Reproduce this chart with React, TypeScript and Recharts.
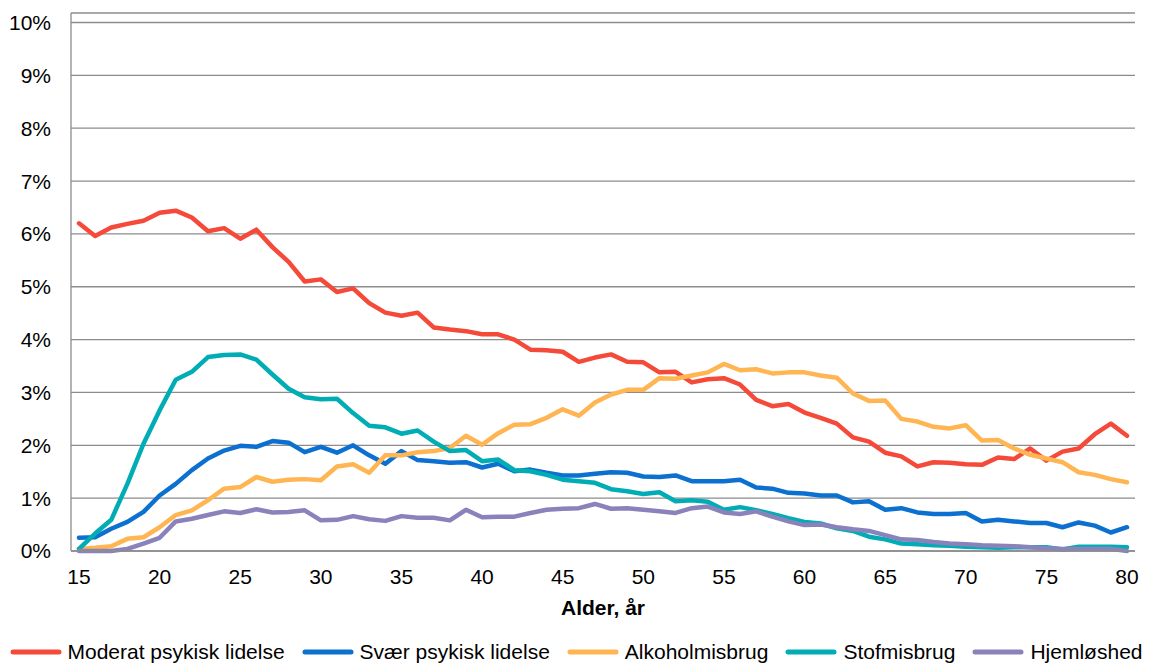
import { LineChart, Line, XAxis, YAxis, CartesianGrid, Legend } from "recharts";

// Andel (%) efter alder
const ages = [
  15, 16, 17, 18, 19, 20, 21, 22, 23, 24, 25, 26, 27, 28, 29, 30, 31, 32, 33, 34, 35, 36,
  37, 38, 39, 40, 41, 42, 43, 44, 45, 46, 47, 48, 49, 50, 51, 52, 53, 54, 55, 56, 57, 58,
  59, 60, 61, 62, 63, 64, 65, 66, 67, 68, 69, 70, 71, 72, 73, 74, 75, 76, 77, 78, 79, 80,
];

const moderat = [
  6.2, 5.96, 6.12, 6.19, 6.25, 6.4, 6.44, 6.31, 6.05, 6.11, 5.91, 6.08, 5.75, 5.47, 5.1, 5.14,
  4.9, 4.97, 4.69, 4.51, 4.45, 4.51, 4.23, 4.19, 4.16, 4.1, 4.1, 4.0, 3.81, 3.8, 3.77, 3.58,
  3.66, 3.72, 3.58, 3.57, 3.38, 3.39, 3.19, 3.25, 3.27, 3.15, 2.86, 2.74, 2.78, 2.62, 2.52,
  2.41, 2.15, 2.07, 1.86, 1.79, 1.6, 1.68, 1.67, 1.64, 1.63, 1.77, 1.74, 1.94, 1.71, 1.88,
  1.94, 2.21, 2.41, 2.18,
];

const svaer = [
  0.25, 0.26, 0.42, 0.55, 0.74, 1.05, 1.27, 1.53, 1.75, 1.9, 1.99, 1.97, 2.08, 2.05, 1.87,
  1.97, 1.86, 2.0, 1.81, 1.65, 1.89, 1.72, 1.7, 1.67, 1.68, 1.58, 1.65, 1.51, 1.54, 1.48,
  1.43, 1.43, 1.46, 1.49, 1.48, 1.41, 1.4, 1.43, 1.32, 1.32, 1.32, 1.35, 1.2, 1.18, 1.1, 1.09,
  1.05, 1.05, 0.92, 0.94, 0.78, 0.81, 0.73, 0.7, 0.7, 0.72, 0.56, 0.59, 0.56, 0.53, 0.53,
  0.45, 0.54, 0.48, 0.35, 0.45,
];

const alkohol = [
  0.04, 0.06, 0.09, 0.23, 0.26, 0.45, 0.68, 0.77, 0.96, 1.18, 1.21, 1.4, 1.31, 1.35, 1.36,
  1.34, 1.6, 1.64, 1.48, 1.81, 1.81, 1.87, 1.89, 1.95, 2.18, 2.01, 2.23, 2.39, 2.4, 2.52,
  2.68, 2.56, 2.81, 2.96, 3.05, 3.05, 3.27, 3.26, 3.32, 3.38, 3.54, 3.42, 3.44, 3.36, 3.38,
  3.38, 3.32, 3.28, 2.98, 2.84, 2.85, 2.5, 2.45, 2.35, 2.32, 2.38, 2.09, 2.1, 1.94, 1.82,
  1.75, 1.68, 1.49, 1.44, 1.36, 1.3,
];

const stof = [
  0.04, 0.33, 0.59, 1.27, 2.03, 2.66, 3.24, 3.39, 3.67, 3.71, 3.72, 3.62, 3.34, 3.07, 2.91,
  2.87, 2.88, 2.61, 2.37, 2.34, 2.22, 2.28, 2.07, 1.89, 1.91, 1.7, 1.73, 1.53, 1.51, 1.44,
  1.35, 1.32, 1.29, 1.17, 1.13, 1.08, 1.11, 0.94, 0.96, 0.93, 0.78, 0.83, 0.77, 0.7, 0.62,
  0.55, 0.52, 0.43, 0.38, 0.27, 0.22, 0.14, 0.13, 0.11, 0.1, 0.08, 0.07, 0.06, 0.07, 0.07,
  0.07, 0.03, 0.08, 0.08, 0.08, 0.07,
];

const hjemloes = [
  0.0, 0.0, 0.0, 0.04, 0.14, 0.25, 0.56, 0.61, 0.68, 0.75, 0.72, 0.79, 0.73, 0.74, 0.77,
  0.58, 0.59, 0.66, 0.6, 0.57, 0.66, 0.63, 0.63, 0.58, 0.78, 0.64, 0.65, 0.65, 0.72, 0.78,
  0.8, 0.81, 0.89, 0.8, 0.81, 0.78, 0.75, 0.72, 0.81, 0.84, 0.73, 0.7, 0.75, 0.65, 0.56,
  0.49, 0.5, 0.45, 0.41, 0.38, 0.3, 0.22, 0.21, 0.17, 0.14, 0.13, 0.11, 0.1, 0.09, 0.07,
  0.05, 0.04, 0.04, 0.04, 0.04, 0.0,
];

const yTicks = [0, 1, 2, 3, 4, 5, 6, 7, 8, 9, 10];

const series = [
  { key: "moderat", name: "Moderat psykisk lidelse", color: "#f54a3a" },
  { key: "svaer", name: "Svær psykisk lidelse", color: "#0b70cf" },
  { key: "alkohol", name: "Alkoholmisbrug", color: "#ffb552" },
  { key: "stof", name: "Stofmisbrug", color: "#00adb4" },
  { key: "hjemloes", name: "Hjemløshed", color: "#8a82bb" },
];

const data = ages.map((age, i) => ({
  age,
  moderat: moderat[i],
  svaer: svaer[i],
  alkohol: alkohol[i],
  stof: stof[i],
  hjemloes: hjemloes[i],
}));

const FONT = '"Liberation Sans", Arial, sans-serif';
const FS = 21;
const AXIS_GRAY = "#8c8c8c";

const renderLegend = () => (
  <div
    style={{
      display: "flex",
      justifyContent: "center",
      alignItems: "center",
      height: 26,
      fontFamily: FONT,
      fontSize: FS,
      color: "#000",
      whiteSpace: "nowrap",
    }}
  >
    {series.map((s, i) => (
      <div
        key={s.key}
        style={{ display: "flex", alignItems: "center", marginRight: i < series.length - 1 ? 17 : 0 }}
      >
        <svg width={52} height={10} style={{ marginRight: 6 }}>
          <line x1={3} y1={5} x2={49} y2={5} stroke={s.color} strokeWidth={5} strokeLinecap="round" />
        </svg>
        <span>{s.name}</span>
      </div>
    ))}
  </div>
);

const App = () => {
  return (
    <div style={{ position: "absolute", left: 0, top: 0, width: 1152, height: 664, background: "#fff" }}>
      <LineChart
        width={1152}
        height={664}
        data={data}
        margin={{ top: 13, right: 17, bottom: 23, left: 0 }}
      >
        <CartesianGrid vertical={false} stroke={AXIS_GRAY} strokeWidth={1.3} />
        <XAxis
          dataKey="age"
          interval={4}
          height={64}
          padding={{ left: 8, right: 8 }}
          tickLine={false}
          tickMargin={12}
          axisLine={{ stroke: AXIS_GRAY, strokeWidth: 1.3 }}
          tick={{ fontSize: FS, fill: "#000", fontFamily: FONT }}
          label={{
            value: "Alder, år",
            position: "insideBottom",
            offset: 0,
            style: { fontSize: FS, fontWeight: "bold", fill: "#000", fontFamily: FONT },
          }}
        />
        <YAxis
          width={71}
          domain={[0, 10.18]}
          ticks={yTicks}
          tickLine={false}
          tickMargin={14}
          axisLine={{ stroke: AXIS_GRAY, strokeWidth: 1.3 }}
          tick={{ fontSize: FS, fill: "#000", fontFamily: FONT }}
          tickFormatter={(v) => `${v}%`}
        />
        <Legend
          verticalAlign="bottom"
          content={renderLegend}
          wrapperStyle={{ top: 639, bottom: "auto", left: 0, width: 1152 }}
        />
        {series.map((s) => (
          <Line
            key={s.key}
            dataKey={s.key}
            name={s.name}
            stroke={s.color}
            strokeWidth={4.5}
            dot={false}
            activeDot={false}
            strokeLinejoin="round"
            strokeLinecap="round"
            isAnimationActive={false}
          />
        ))}
      </LineChart>
    </div>
  );
};

export default App;
